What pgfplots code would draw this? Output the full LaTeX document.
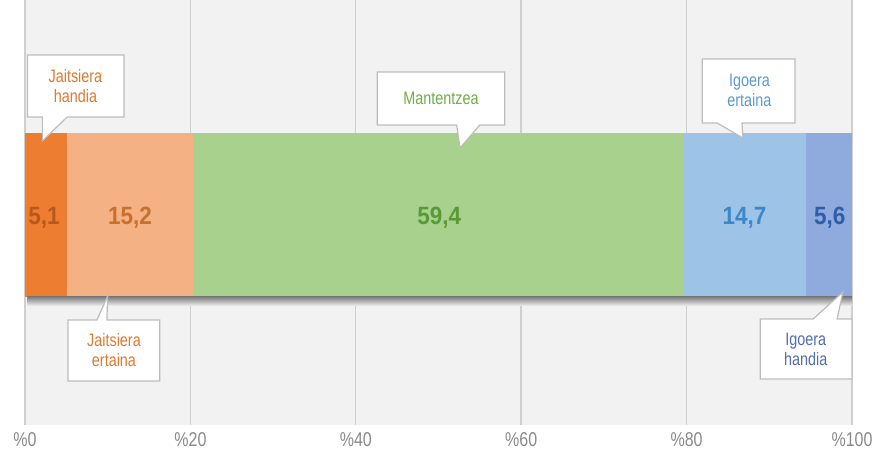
\documentclass[border=0pt]{standalone}
\usepackage{fontspec}
\setmainfont{Liberation Sans}[FakeStretch=0.8]
\newfontfamily\numfont{Liberation Sans}[FakeStretch=0.9]
\usepackage{pgfplots}
\pgfplotsset{compat=1.18}
\definecolor{bggray}{HTML}{F2F2F2}
\definecolor{gridgray}{HTML}{CFCFCF}
\definecolor{tickgray}{HTML}{8A8A8A}
\definecolor{boxgray}{HTML}{BDBDBD}
\definecolor{cA}{HTML}{ED7D31}
\definecolor{cB}{HTML}{F4B183}
\definecolor{cC}{HTML}{A9D18E}
\definecolor{cD}{HTML}{9DC3E6}
\definecolor{cE}{HTML}{8FAADC}
\definecolor{tA}{HTML}{B8581C}
\definecolor{tB}{HTML}{C9702E}
\definecolor{tC}{HTML}{5A9A36}
\definecolor{tD}{HTML}{3D87C9}
\definecolor{tE}{HTML}{2F5EA8}
\definecolor{lO}{HTML}{E07A2E}
\definecolor{lG}{HTML}{6FAE48}
\definecolor{lB}{HTML}{5B9BD5}
\definecolor{lP}{HTML}{4F6FAF}
\begin{document}
\begin{tikzpicture}
\useasboundingbox (-12.5pt,-18pt) rectangle (425pt,212.5pt);
\begin{axis}[
  scale only axis, width=413.5pt, height=212.5pt,
  at={(0,0)}, anchor=south west,
  xmin=0, xmax=100, ymin=0, ymax=425,
  xbar stacked, bar width=164,
  reverse stacked plots=false,
  axis background/.style={fill=bggray},
  axis line style={draw=none},
  xtick={0,20,40,60,80,100},
  xticklabels={\%0,\%20,\%40,\%60,\%80,\%100},
  ytick=\empty,
  xmajorgrids, grid style={gridgray, line width=0.7pt},
  major tick length=0pt,
  xticklabel style={font=\fontsize{10}{12}\selectfont, text=tickgray},
  clip=false,
]
\addplot[fill=cA, draw=none] coordinates {(5.1,210)};
\addplot[fill=cB, draw=none] coordinates {(15.2,210)};
\addplot[fill=cC, draw=none] coordinates {(59.4,210)};
\addplot[fill=cD, draw=none] coordinates {(14.7,210)};
\addplot[fill=cE, draw=none] coordinates {(5.6,210)};
\shade[top color=black!50, bottom color=bggray] (axis cs:0.3,128) rectangle (axis cs:100,119);
\tikzset{numlab/.style={font=\numfont\bfseries\fontsize{12.5}{14}\selectfont}}
\node[text=tA, numlab] at (axis cs:2.3,207) {5,1};
\node[text=tB, numlab] at (axis cs:12.7,207) {15,2};
\node[text=tC, numlab] at (axis cs:50.1,207) {59,4};
\node[text=tD, numlab] at (axis cs:87.0,207) {14,7};
\node[text=tE, numlab] at (axis cs:97.3,207) {5,6};
% callouts
\filldraw[fill=white, draw=boxgray, line width=0.6pt] (axis cs:0.3,308) -- (axis cs:0.3,370) -- (axis cs:11.97,370) -- (axis cs:11.97,308) -- (axis cs:5.1,308) -- (axis cs:2.1,284) -- (axis cs:2.1,308) -- cycle;
\node[text=lO, align=center, font=\fontsize{9}{10}\selectfont] at (axis cs:6.1,339) {Jaitsiera\\handia};
\filldraw[fill=white, draw=boxgray, line width=0.6pt] (axis cs:5.2,105) -- (axis cs:5.2,44) -- (axis cs:16.3,44) -- (axis cs:16.3,105) -- (axis cs:9.9,105) -- (axis cs:10.0,129) -- (axis cs:8.7,105) -- cycle;
\node[text=lO, align=center, font=\fontsize{9}{10}\selectfont] at (axis cs:10.76,75) {Jaitsiera\\ertaina};
\filldraw[fill=white, draw=boxgray, line width=0.6pt] (axis cs:42.6,300) -- (axis cs:42.6,353) -- (axis cs:58.0,353) -- (axis cs:58.0,300) -- (axis cs:55.0,300) -- (axis cs:52.6,277) -- (axis cs:52.2,300) -- cycle;
\node[text=lG, font=\fontsize{9}{10}\selectfont] at (axis cs:50.3,327) {Mantentzea};
\filldraw[fill=white, draw=boxgray, line width=0.6pt] (axis cs:81.9,302) -- (axis cs:81.9,366) -- (axis cs:93.1,366) -- (axis cs:93.1,302) -- (axis cs:86.7,302) -- (axis cs:86.8,287) -- (axis cs:83.7,302) -- cycle;
\node[text=lB, align=center, font=\fontsize{9}{10}\selectfont] at (axis cs:87.6,335) {Igoera\\ertaina};
\filldraw[fill=white, draw=boxgray, line width=0.6pt] (axis cs:88.9,106) -- (axis cs:88.9,46) -- (axis cs:100,46) -- (axis cs:100,106) -- (axis cs:98.2,106) -- (axis cs:98.9,133) -- (axis cs:95.3,106) -- cycle;
\node[text=lP, align=center, font=\fontsize{9}{10}\selectfont] at (axis cs:94.4,76) {Igoera\\handia};
\end{axis}
\end{tikzpicture}
\end{document}
